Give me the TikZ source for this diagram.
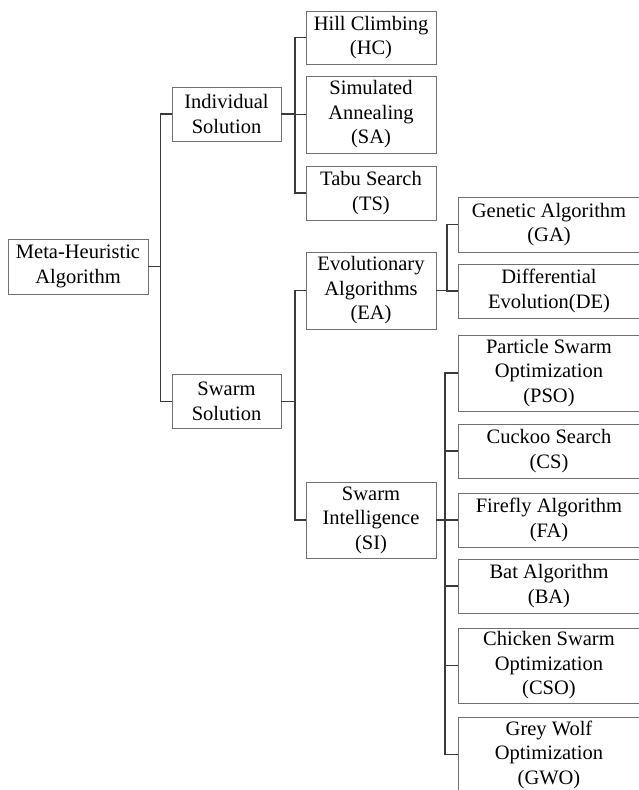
\documentclass[tikz,border=0pt]{standalone}
\usepackage{fontspec}
\setmainfont{Liberation Serif}
\usetikzlibrary{calc}
\definecolor{boxline}{HTML}{707070}
\definecolor{wire}{HTML}{3A3A3A}
\definecolor{ink}{HTML}{000000}
\begin{document}
\begin{tikzpicture}[x=1pt,y=-1pt,
  box/.style={draw=boxline,line width=0.9pt,fill=white,inner sep=0pt,
    align=center,text=ink,font=\fontsize{20.5}{24.5}\selectfont},
  leaf/.style={box,minimum width=182pt},
  wirestyle/.style={draw=wire,line width=1.5pt}]
\useasboundingbox[fill=white] (0,0) rectangle (638,790);
% root and first level
\node[box,minimum width=140pt,minimum height=55pt] (root) at (78,266.5) {Meta-Heuristic\\Algorithm};
\node[box,minimum width=109pt,minimum height=54pt] (ind) at (226.5,114) {Individual\\Solution};
\node[box,minimum width=109pt,minimum height=54pt] (swm) at (226.5,401.5) {Swarm\\Solution};
% individual solution methods
\node[box,minimum width=130pt,minimum height=53pt] (hc) at (371,37.5) {Hill Climbing\\(HC)};
\node[box,minimum width=130pt,minimum height=77pt] (sa) at (371,114.5) {Simulated\\Annealing\\(SA)};
\node[box,minimum width=130pt,minimum height=54pt] (ts) at (371,193) {Tabu Search\\(TS)};
% swarm solution families
\node[box,minimum width=130pt,minimum height=77pt] (ea) at (371,290.5) {Evolutionary\\Algorithms\\(EA)};
\node[box,minimum width=130pt,minimum height=76pt] (si) at (371,520) {Swarm\\Intelligence\\(SI)};
% evolutionary algorithms (boxes run on past the right margin)
\node[leaf,minimum height=55pt] (ga) at (549,224.5) {Genetic Algorithm\\(GA)};
\node[leaf,minimum height=54pt] (de) at (549,291) {Differential\\Evolution(DE)};
% swarm intelligence
\node[leaf,minimum height=76pt] (pso) at (549,373) {Particle Swarm\\Optimization\\(PSO)};
\node[leaf,minimum height=54pt] (cs) at (549,451) {Cuckoo Search\\(CS)};
\node[leaf,minimum height=54pt] (fa) at (549,520) {Firefly Algorithm\\(FA)};
\node[leaf,minimum height=54pt] (ba) at (549,586) {Bat Algorithm\\(BA)};
\node[leaf,minimum height=75pt] (cso) at (549,665.5) {Chicken Swarm\\Optimization\\(CSO)};
\node[leaf,minimum height=75pt] (gwo) at (549,754.5) {Grey Wolf\\Optimization\\(GWO)};
% connectors
\foreach \c in {ind,swm} \draw[wirestyle] (root.east) -- ++(12,0) |- (\c.west);
\foreach \c in {hc,sa,ts} \draw[wirestyle] (ind.east) -- ++(13.5,0) |- (\c.west);
\foreach \c in {ea,si} \draw[wirestyle] (swm.east) -- ++(13.5,0) |- (\c.west);
\foreach \c in {ga,de} \draw[wirestyle] (ea.east) -- ++(10.5,0) |- (\c.west);
\foreach \c in {pso,cs,fa,ba,cso,gwo} \draw[wirestyle] (si.east) -- ++(8.5,0) |- (\c.west);
\end{tikzpicture}
\end{document}
